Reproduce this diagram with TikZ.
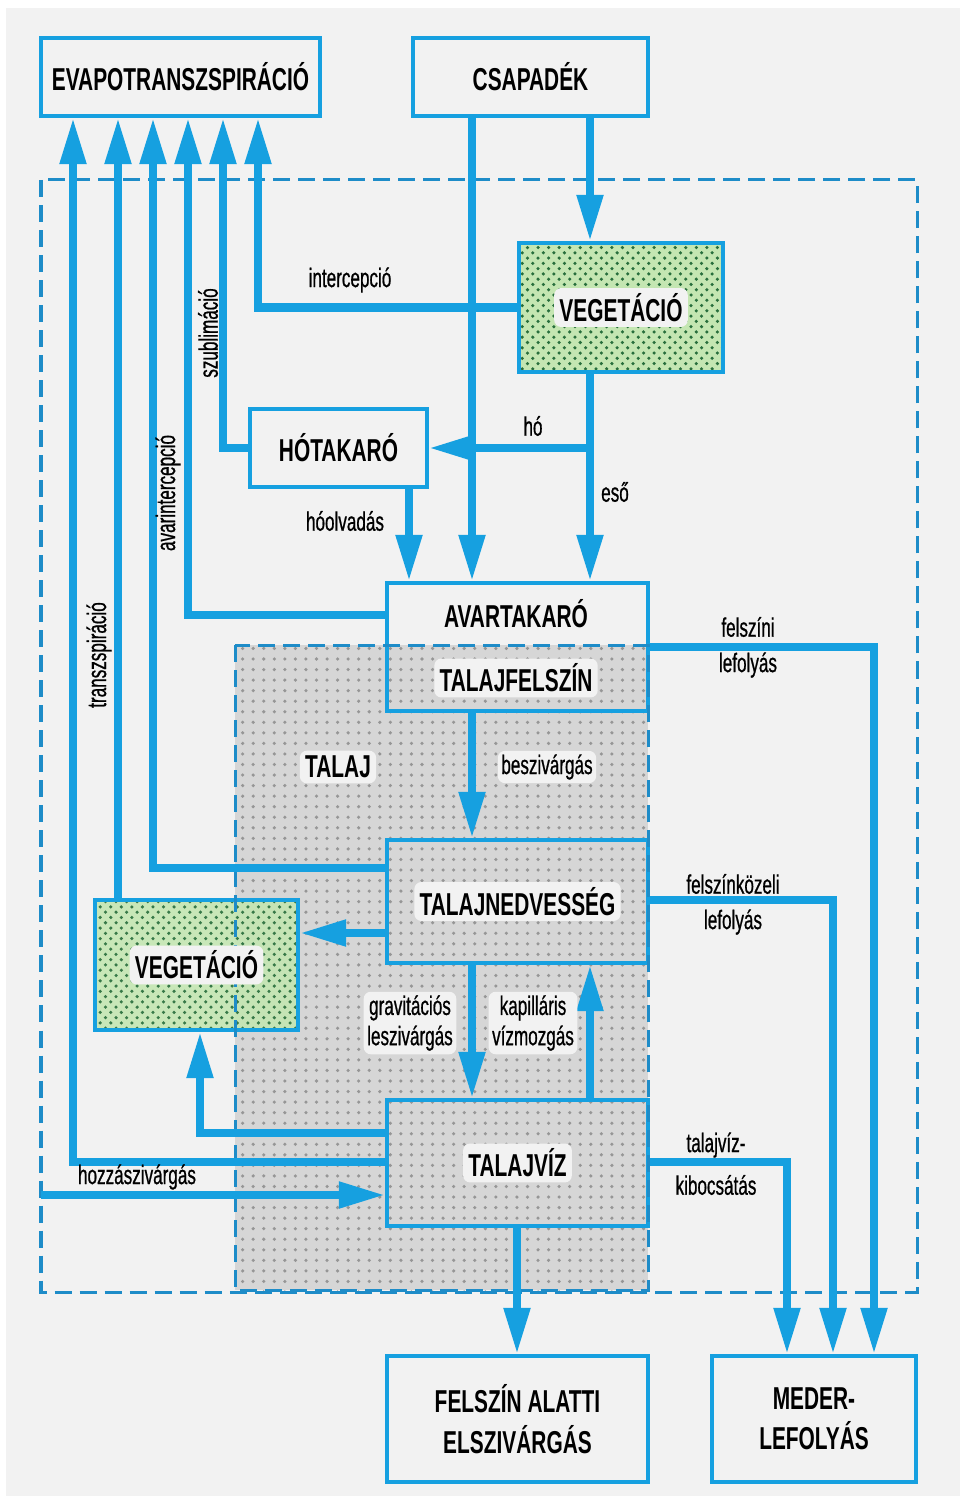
\documentclass[tikz,border=0pt]{standalone}
\usepackage{fontspec}
\setmainfont{Liberation Sans}[FakeStretch=0.66]
\newfontfamily\labfont{Liberation Sans}[FakeStretch=0.64,FakeBold=0.7]
\usetikzlibrary{arrows.meta,patterns}
\definecolor{flowblue}{RGB}{22,160,224}
\definecolor{framblue}{RGB}{30,140,200}
\definecolor{bgcol}{RGB}{242,242,242}
\definecolor{vegfill}{RGB}{196,230,178}
\definecolor{vegdot}{RGB}{40,110,60}
\definecolor{soilfill}{RGB}{214,214,214}
\definecolor{soildot}{RGB}{150,150,150}
\tikzset{
 box/.style={draw=flowblue,line width=0.04cm,fill=bgcol,inner sep=0pt,
  font=\fontsize{9}{11.5}\selectfont\bfseries,align=center},
 soilbox/.style={box,fill=none},
 greenbox/.style={box,preaction={fill=vegfill},pattern=crosshatch dots,pattern color=vegdot},
 flow/.style={draw=flowblue,line width=0.08cm,-{Triangle[length=0.46cm,width=0.25cm]}},
 lab/.style={font=\labfont\fontsize{7.6}{8.6}\selectfont,align=center,inner sep=1pt},
 boxtxt/.style={font=\fontsize{9}{11.5}\selectfont\bfseries,inner sep=1.5pt},
 halo/.style={fill=bgcol,rounded corners=2pt},
 frame/.style={draw=framblue,line width=0.03cm,dash pattern=on 0.17cm off 0.08cm}
}
\begin{document}
\begin{tikzpicture}[x=0.01cm,y=-0.01cm]
\useasboundingbox (0,0) rectangle (963,1503);
\fill[white] (0,0) rectangle (963,1503);
\fill[bgcol] (6,8) rectangle (960,1496);

% talaj
\fill[soilfill] (235,645) rectangle (648,1290);
\fill[pattern=dots,pattern color=soildot] (235,645) rectangle (648,1290);
\draw[frame] (41,180) rectangle (917,1292);

% columns and rows
\coordinate (e1) at (73,0);
\coordinate (e2) at (118,0);
\coordinate (e3) at (153,0);
\coordinate (e4) at (188,0);
\coordinate (e5) at (223,0);
\coordinate (e6) at (258,0);
\coordinate (rain) at (472,0);
\coordinate (vcol) at (590,0);
\coordinate (melt) at (409,0);
\coordinate (down) at (517,0);
\coordinate (up) at (200,0);
\coordinate (r1) at (787,0);
\coordinate (r2) at (833,0);
\coordinate (r3) at (874,0);
\coordinate (inflow) at (41,1195);

\node[box,minimum width=2.79cm,minimum height=0.78cm] (evapo) at (180.5,77) {EVAPOTRANSZSPIRÁCIÓ};
\node[box,minimum width=2.35cm,minimum height=0.78cm] (csap) at (530.5,77) {CSAPADÉK};
\node[greenbox,minimum width=2.04cm,minimum height=1.29cm] (veg1) at (621,307.5) {};
\node[box,minimum width=1.77cm,minimum height=0.78cm] (hotak) at (338.5,448) {HÓTAKARÓ};
\node[soilbox,minimum width=2.61cm,minimum height=1.28cm] (avar) at (517.5,647) {};
\node[soilbox,minimum width=2.61cm,minimum height=1.23cm] (nedv) at (517.5,901.5) {};
\node[soilbox,minimum width=2.61cm,minimum height=1.26cm] (tviz) at (517.5,1163) {};
\node[greenbox,minimum width=2.03cm,minimum height=1.30cm,fill opacity=0.9] (veg2) at (196.5,965) {};
\node[box,minimum width=2.61cm,minimum height=1.26cm] (alatti) at (517.5,1419) {FELSZÍN ALATTI\\ELSZIVÁRGÁS};
\node[box,minimum width=2.04cm,minimum height=1.26cm] (meder) at (814,1419) {MEDER-\\LEFOLYÁS};

\draw[frame] (235,645) rectangle (648,1290);

% felfele
\draw[flow] (tviz.west |- 0,1162) -| (e1 |- evapo.south);
\draw[flow] (veg2.north -| e2) -- (e2 |- evapo.south);
\draw[flow] (nedv.west |- 0,868) -| (e3 |- evapo.south);
\draw[flow] (avar.west |- 0,615) -| (e4 |- evapo.south);
\draw[flow] (hotak.west) -| (e5 |- evapo.south);
\draw[flow] (veg1.west) -| (e6 |- evapo.south);
% lefele
\draw[flow] (csap.south -| rain) -- (avar.north -| rain);
\draw[flow] (csap.south -| vcol) -- (veg1.north -| vcol);
\draw[flow] (veg1.south -| vcol) -- (avar.north -| vcol);
\draw[flow] (hotak.east -| vcol) -- (hotak.east);
\draw[flow] (hotak.south -| melt) -- (avar.north -| melt);
\draw[flow] (avar.south -| rain) -- (nedv.north -| rain);
\draw[flow] (nedv.south -| rain) -- (tviz.north -| rain);
\draw[flow] (tviz.north -| vcol) -- (nedv.south -| vcol);
\draw[flow] (nedv.west |- 0,933) -- (veg2.east |- 0,933);
\draw[flow] (tviz.west |- 0,1133) -| (up |- veg2.south);
\draw[flow] (inflow) -- (tviz.west |- inflow);
\draw[flow] (tviz.south -| down) -- (alatti.north -| down);
% lefolyas
\draw[flow] (avar.east |- 0,647) -| (r3 |- meder.north);
\draw[flow] (nedv.east |- 0,900) -| (r2 |- meder.north);
\draw[flow] (tviz.east |- 0,1162) -| (r1 |- meder.north);

\node[boxtxt,halo] at (veg1) {VEGETÁCIÓ};
\node[boxtxt,halo] at (veg2) {VEGETÁCIÓ};
\node[boxtxt] at (516,614) {AVARTAKARÓ};
\node[boxtxt,halo] at (516,678) {TALAJFELSZÍN};
\node[boxtxt,halo] at (nedv) {TALAJNEDVESSÉG};
\node[boxtxt,halo] at (tviz) {TALAJVÍZ};
\node[boxtxt,halo] at (338,767) {TALAJ};

\node[lab] at (350,280) {intercepció};
\node[lab,rotate=90] at (208,333) {szublimáció};
\node[lab,rotate=90] at (168,493) {avarintercepció};
\node[lab,rotate=90] at (99,655) {transzspiráció};
\node[lab] at (533,426) {hó};
\node[lab] at (615,492) {eső};
\node[lab] at (345,521) {hóolvadás};
\node[lab] at (748,627) {felszíni};
\node[lab] at (748,665) {lefolyás};
\node[lab,halo] at (547,767) {beszivárgás};
\node[lab] at (733,884) {felszínközeli};
\node[lab] at (733,922) {lefolyás};
\node[lab,halo] at (410,1023) {gravitációs\\leszivárgás};
\node[lab,halo] at (533,1023) {kapilláris\\vízmozgás};
\node[lab] at (716,1145) {talajvíz-};
\node[lab] at (716,1185) {kibocsátás};
\node[lab] at (137,1177) {hozzászivárgás};
\end{tikzpicture}
\end{document}
